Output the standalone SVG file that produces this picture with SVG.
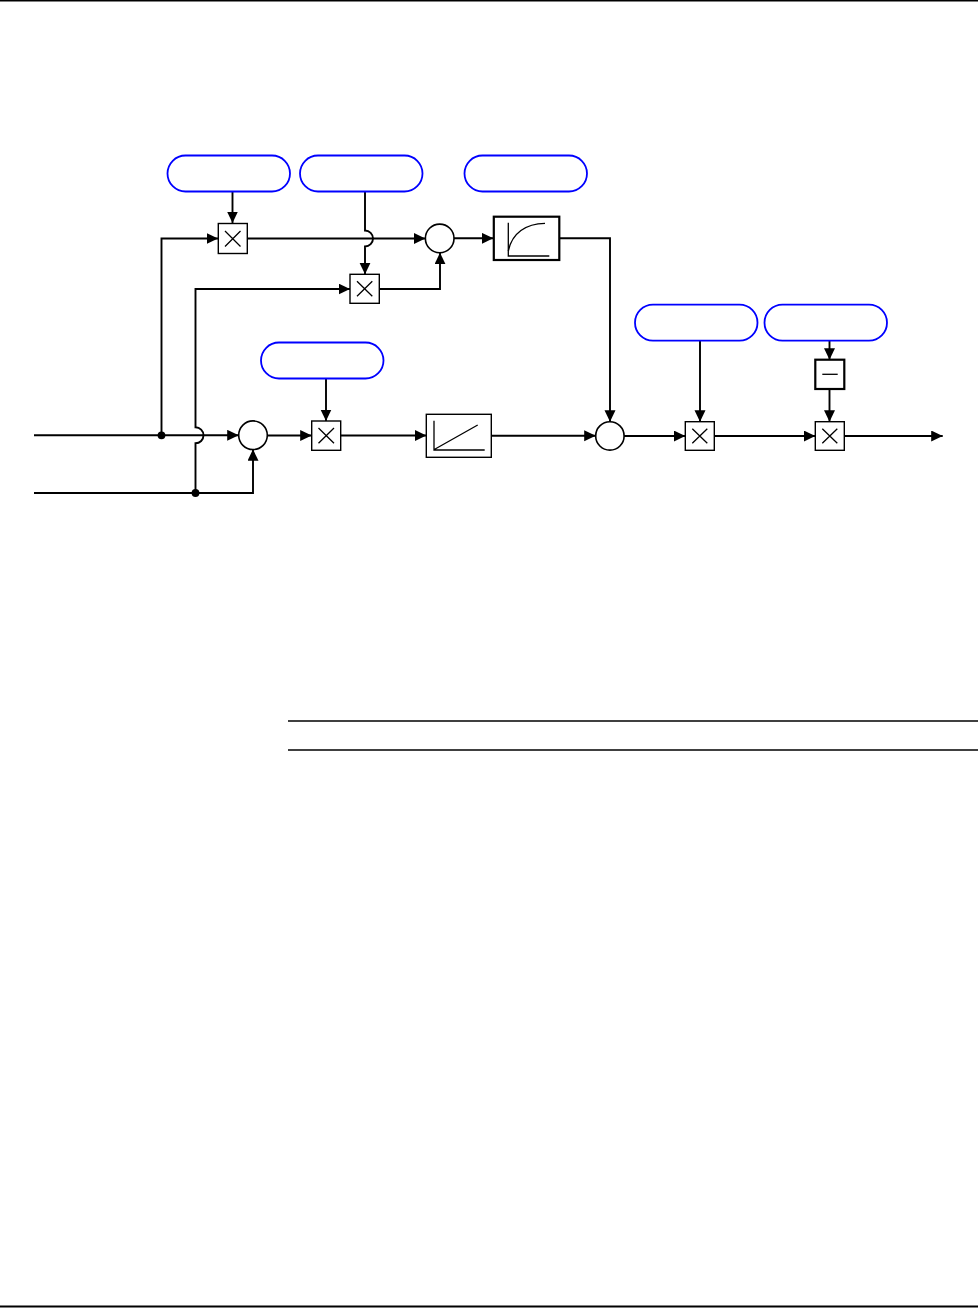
<svg xmlns="http://www.w3.org/2000/svg" width="978" height="1308" viewBox="0 0 978 1308">
<style>
.pill{fill:#fff;stroke:#0000ff;stroke-width:1.8}
.mul{fill:#fff;stroke:#000;stroke-width:1.4}
.sum{fill:#fff;stroke:#000;stroke-width:1.6}
.blk{fill:#fff;stroke:#000;stroke-width:2.2}
.ink{fill:none;stroke:#000;stroke-width:1.3}
.con{fill:none;stroke:#000;stroke-width:1.9}
.rule{stroke:#000;fill:none}
</style>
<defs>
<marker id="arr" markerUnits="userSpaceOnUse" markerWidth="13" markerHeight="12" refX="11.5" refY="5.5" orient="auto">
<path d="M0,0 L11.5,5.5 L0,11 z" fill="#000"/>
</marker>
</defs>
<rect width="978" height="1308" fill="#fff"/>
<g id="page-rules">
<line class="rule" x1="0" y1="0.75" x2="978" y2="0.75" stroke-width="1.5"/>
<line class="rule" x1="288" y1="721" x2="978" y2="721" stroke-width="1.3"/>
<line class="rule" x1="288" y1="750" x2="978" y2="750" stroke-width="1.3"/>
<line class="rule" x1="0" y1="1306.5" x2="978" y2="1306.5" stroke-width="2"/>
</g>
<g id="connectors">
<path class="con" d="M232.5,191.5 V223" marker-end="url(#arr)"/>
<path class="con" d="M161.5,435.3 V238.5 H218" marker-end="url(#arr)"/>
<path class="con" d="M247.3,238.5 H425.3" marker-end="url(#arr)"/>
<path class="con" d="M365,191.5 V230.5 A8,8 0 0 1 365,246.5 V274.3" marker-end="url(#arr)"/>
<path class="con" d="M195.5,493 V443.3 A8,8 0 0 0 195.5,427.3 V289 H350" marker-end="url(#arr)"/>
<path class="con" d="M379.3,289 H440 V252.7" marker-end="url(#arr)"/>
<path class="con" d="M454,238.3 H493.3" marker-end="url(#arr)"/>
<path class="con" d="M559.3,238.3 H610 V421.7" marker-end="url(#arr)"/>
<path class="con" d="M34,435.3 H238.7" marker-end="url(#arr)"/>
<path class="con" d="M34,493 H253 V449.3" marker-end="url(#arr)"/>
<path class="con" d="M267.3,435.5 H311.7" marker-end="url(#arr)"/>
<path class="con" d="M326,378.7 V421" marker-end="url(#arr)"/>
<path class="con" d="M340.7,435.5 H426.3" marker-end="url(#arr)"/>
<path class="con" d="M491.3,435.7 H595.7" marker-end="url(#arr)"/>
<path class="con" d="M624,436 H685.3" marker-end="url(#arr)"/>
<path class="con" d="M700,340.7 V421.7" marker-end="url(#arr)"/>
<path class="con" d="M714.3,436 H815.3" marker-end="url(#arr)"/>
<path class="con" d="M829.5,340.7 V359.7" marker-end="url(#arr)"/>
<path class="con" d="M829.5,389 V421.7" marker-end="url(#arr)"/>
<path class="con" d="M844.3,436 H942.7" marker-end="url(#arr)"/>
<circle cx="161.5" cy="435.3" r="3.9" fill="#000"/>
<circle cx="195.5" cy="493" r="3.9" fill="#000"/>
</g>
<g id="pill-a"><rect class="pill" x="167.5" y="155.5" width="122.5" height="36" rx="18"/></g>
<g id="pill-b"><rect class="pill" x="300" y="155.5" width="122.5" height="36" rx="18"/></g>
<g id="pill-c"><rect class="pill" x="464.5" y="155.5" width="122.5" height="36" rx="18"/></g>
<g id="pill-d"><rect class="pill" x="261" y="342.5" width="122.5" height="36" rx="18"/></g>
<g id="pill-e"><rect class="pill" x="635" y="304.7" width="122.5" height="36" rx="18"/></g>
<g id="pill-f"><rect class="pill" x="764.5" y="304.7" width="122.5" height="36" rx="18"/></g>
<g id="mult-1"><rect class="mul" x="218.3" y="223.5" width="29" height="30"/><path class="ink" d="M225,231 L240.5,246.5 M240.5,231 L225,246.5"/></g>
<g id="mult-2"><rect class="mul" x="350" y="274.3" width="29.3" height="29"/><path class="ink" d="M357,281.3 L372.3,296.3 M372.3,281.3 L357,296.3"/></g>
<g id="mult-3"><rect class="mul" x="311.7" y="421" width="29" height="29.3"/><path class="ink" d="M318.5,428 L334,443.3 M334,428 L318.5,443.3"/></g>
<g id="mult-4"><rect class="mul" x="685.3" y="421.7" width="29" height="28.6"/><path class="ink" d="M692.3,428.7 L707.3,443.3 M707.3,428.7 L692.3,443.3"/></g>
<g id="mult-5"><rect class="mul" x="815.3" y="421.7" width="29" height="28.6"/><path class="ink" d="M822.3,428.7 L837.3,443.3 M837.3,428.7 L822.3,443.3"/></g>
<g id="sum-1"><circle class="sum" cx="439.7" cy="238.4" r="14.3"/></g>
<g id="sum-2"><circle class="sum" cx="609.9" cy="435.9" r="14.2"/></g>
<g id="sum-3"><circle class="sum" cx="253" cy="435.2" r="14.3"/></g>
<g id="lag-block"><rect class="blk" x="493.8" y="216.7" width="65.5" height="43.3"/><path class="ink" d="M508.3,222.7 V256 H549.3"/><path class="ink" d="M508.3,251 C512,233 526,223.5 545,223.3"/></g>
<g id="ramp-block"><rect class="mul" x="426.3" y="414.3" width="65" height="43"/><path class="ink" d="M434,420.7 V450 H484.7 M434.7,449.3 L477.7,425"/></g>
<g id="neg-block"><rect class="blk" x="815.3" y="359.7" width="29" height="29.3"/><line class="ink" x1="822.3" y1="374.3" x2="837.7" y2="374.3"/></g>
</svg>
